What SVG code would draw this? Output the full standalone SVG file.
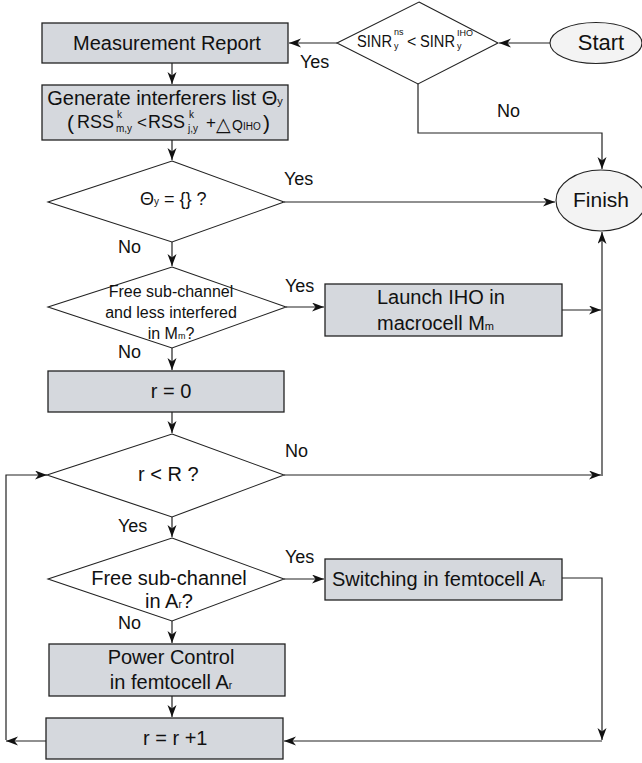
<svg xmlns="http://www.w3.org/2000/svg" width="642" height="763" viewBox="0 0 642 763">
<defs>
<marker id="ah" markerUnits="userSpaceOnUse" markerWidth="13" markerHeight="10" refX="12" refY="4.5" orient="auto"><path d="M0,0 L12,4.5 L0,9 L3.5,4.5 z" fill="#111"/></marker>
<style>
.box{fill:#d5d8dd;stroke:#222;stroke-width:1.3}
.dia{fill:#fff;stroke:#222;stroke-width:1.1}
.ell{fill:#f3f3f3;stroke:#222;stroke-width:1.1}
.ln{fill:none;stroke:#222;stroke-width:1.2}
.ar{marker-end:url(#ah)}
text{font-family:"Liberation Sans",Arial,Helvetica,sans-serif;fill:#111}
.f20{font-size:20px}
.f16{font-size:16px}
.lbl{font-size:18px}
.m{text-anchor:middle}
.sym{font-family:"DejaVu Sans",sans-serif}
</style>
</defs>
<rect width="642" height="763" fill="#fff"/>

<g id="connectors">
<path class="ln ar" d="M550,43 H499"/>
<path class="ln ar" d="M337,43 H289"/>
<path class="ln ar" d="M418,84 V133 H602 V169"/>
<path class="ln ar" d="M172,63 V84"/>
<path class="ln ar" d="M172,140 V160"/>
<path class="ln ar" d="M284,202 H555"/>
<path class="ln ar" d="M172,242 V266"/>
<path class="ln ar" d="M286,307 H324"/>
<path class="ln ar" d="M562,310 H601"/>
<path class="ln ar" d="M172,348 V370"/>
<path class="ln ar" d="M172,412 V433"/>
<path class="ln ar" d="M284,475 H601"/>
<path class="ln ar" d="M602,476 V232"/>
<path class="ln ar" d="M172,517 V537"/>
<path class="ln ar" d="M284,579 H324"/>
<path class="ln ar" d="M562,578 H602 V740"/>
<path class="ln ar" d="M602,741 H284"/>
<path class="ln ar" d="M172,621 V643"/>
<path class="ln ar" d="M172,696 V717"/>
<path class="ln ar" d="M46,741 H6"/>
<path class="ln ar" d="M6,740 V475 H47"/>
</g>

<g id="labels">
<text class="lbl" x="300" y="68">Yes</text>
<text class="lbl" x="497" y="117">No</text>
<text class="lbl" x="284" y="185">Yes</text>
<text class="lbl" x="118" y="253">No</text>
<text class="lbl" x="285" y="292">Yes</text>
<text class="lbl" x="118" y="358">No</text>
<text class="lbl" x="285" y="457">No</text>
<text class="lbl" x="118" y="532">Yes</text>
<text class="lbl" x="285" y="563">Yes</text>
<text class="lbl" x="118" y="629">No</text>
</g>

<g id="start">
<ellipse class="ell" cx="596" cy="43" rx="46" ry="20.5"/>
<text class="m" x="601" y="50" font-size="22">Start</text>
</g>

<g id="check-sinr">
<polygon class="dia" points="419,2 498,43 418,84 337,43"/>
<text x="357" y="47" font-size="16" textLength="35" lengthAdjust="spacingAndGlyphs">SINR</text>
<text x="394" y="35" font-size="9">ns</text>
<text x="394" y="49" font-size="9">y</text>
<text x="407" y="47" font-size="16">&lt;</text>
<text x="420" y="47" font-size="16" textLength="35" lengthAdjust="spacingAndGlyphs">SINR</text>
<text x="457" y="36" font-size="9">IHO</text>
<text x="457" y="49" font-size="9">y</text>
</g>

<g id="measurement-report">
<rect class="box" x="42" y="23" width="246" height="40"/>
<text class="f20 m" x="167" y="50">Measurement Report</text>
</g>

<g id="interferers-list">
<rect class="box" x="42" y="85" width="246" height="55"/>
<text class="f20 m" x="165" y="105">Generate interferers list Θ<tspan font-size="11">y</tspan></text>
<text x="67" y="130" font-size="21">(</text>
<text x="77" y="128" font-size="18">RSS</text>
<text x="117" y="118" font-size="10">k</text>
<text x="116" y="132" font-size="10">m,y</text>
<text x="137" y="128" font-size="17">&lt;</text>
<text x="148" y="128" font-size="18">RSS</text>
<text x="189" y="118" font-size="10">k</text>
<text x="188" y="132" font-size="10">j,y</text>
<text x="206" y="128" font-size="17">+</text>
<text class="sym" x="216" y="131" font-size="19">△</text>
<text x="232" y="130" font-size="14">Q</text>
<text x="243" y="130" font-size="10">IHO</text>
<text x="263" y="130" font-size="21">)</text>
</g>

<g id="check-empty">
<polygon class="dia" points="172,161 284,202 172,242 48,202"/>
<text x="140" y="205" font-size="18">Θ<tspan font-size="10">y</tspan> = {} ?</text>
</g>

<g id="finish">
<ellipse class="ell" cx="601" cy="200.5" rx="45" ry="30.5"/>
<text class="m" x="601" y="207" font-size="21">Finish</text>
</g>

<g id="check-macro">
<polygon class="dia" points="172,267 286,307 172,348 48,307"/>
<text class="f16 m" x="171" y="297">Free sub-channel</text>
<text class="f16 m" x="171" y="318">and less interfered</text>
<text class="f16 m" x="171" y="339">in M<tspan font-size="9">m</tspan>?</text>
</g>

<g id="launch-iho">
<rect class="box" x="325" y="284" width="237" height="52"/>
<text class="f20" x="377" y="304">Launch IHO in</text>
<text class="f20" x="377" y="330">macrocell M<tspan font-size="11">m</tspan></text>
</g>

<g id="r-zero">
<rect class="box" x="48" y="371" width="236" height="41"/>
<text class="f20 m" x="171" y="398">r = 0</text>
</g>

<g id="check-r">
<polygon class="dia" points="172,434 284,475 172,517 47,475"/>
<text class="f20" x="138" y="481">r &lt; R ?</text>
</g>

<g id="check-femto">
<polygon class="dia" points="172,538 284,579 172,621 48,579"/>
<text class="f20 m" x="169" y="585">Free sub-channel</text>
<text class="f20 m" x="169" y="608">in A<tspan font-size="10">r</tspan>?</text>
</g>

<g id="switching">
<rect class="box" x="325" y="559" width="237" height="41"/>
<text class="f20" x="332" y="586">Switching in femtocell A<tspan font-size="10">r</tspan></text>
</g>

<g id="power-control">
<rect class="box" x="49" y="644" width="236" height="52"/>
<text class="f20 m" x="171" y="664">Power Control</text>
<text class="f20 m" x="171" y="689">in femtocell A<tspan font-size="10">r</tspan></text>
</g>

<g id="r-increment">
<rect class="box" x="46" y="718" width="237" height="41"/>
<text class="f20" x="143" y="745">r = r +1</text>
</g>
</svg>
